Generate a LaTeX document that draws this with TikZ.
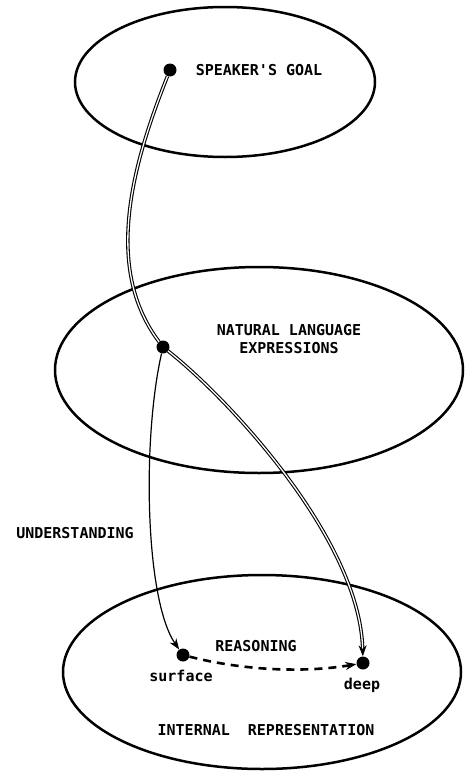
\documentclass[tikz,border=0pt]{standalone}
\usepackage{fontspec}
\setmonofont{DejaVu Sans Mono}
\usetikzlibrary{arrows.meta,positioning,shapes.geometric}

\begin{document}
\begin{tikzpicture}[x=1pt, y=-1pt,
  zone/.style={draw, ellipse, line width=2.5pt, inner sep=0pt},
  spot/.style={circle, fill, inner sep=0pt, minimum size=13pt},
  lbl/.style={font=\ttfamily\bfseries\fontsize{15}{18}\selectfont,
              align=center, inner sep=1pt},
  dbl/.style={double, line width=1.1pt, double distance=1.3pt},
  arr/.style={-{Stealth[length=11pt, width=8pt]}}
]
\useasboundingbox (0,0) rectangle (469,779);

% the three spaces
\node[zone, minimum width=300pt, minimum height=150pt] (goalzone) at (225,82) {};
\node[zone, minimum width=408pt, minimum height=206pt] (nlzone) at (259,370) {};
\node[zone, minimum width=398pt, minimum height=194pt] (irzone) at (262,672) {};

% points
\node[spot] (goalpt) at (170,70) {};
\node[spot] (nlpt) at (163,347) {};
\node[spot] (surfpt) at (183,655) {};
\node[spot] (deeppt) at (363,663) {};

% labels
\node[lbl] (goallbl) at (259,70) {SPEAKER'S GOAL};
\node[lbl] (nllbl) at (289,339) {NATURAL LANGUAGE\\EXPRESSIONS};
\node[lbl] (undlbl) at (75,533) {UNDERSTANDING};
\node[lbl] (reaslbl) at (256,646) {REASONING};
\node[lbl] (surflbl) at (181,676) {surface};
\node[lbl] (deeplbl) at (362,685) {deep};
\node[lbl] (irlbl) at (266,730) {INTERNAL~~REPRESENTATION};

% paths
\draw[dbl] (goalpt) .. controls (130,170) and (105,270) .. (nlpt);
\draw[dbl, arr] (nlpt) .. controls (230,400) and (360,540) .. (deeppt);
\draw[arr, line width=1.2pt] (nlpt) .. controls (142,440) and (145,600) .. (surfpt);
\draw[arr, line width=2.6pt, dash pattern=on 8pt off 6pt]
  (surfpt) .. controls (250,672) and (310,672) .. (deeppt);
\end{tikzpicture}
\end{document}
